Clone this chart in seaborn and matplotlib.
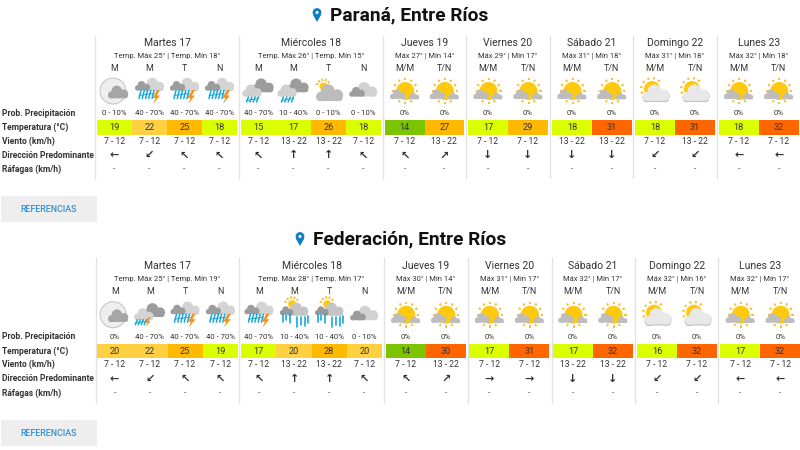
import numpy as np
import matplotlib
matplotlib.use("Agg")
import matplotlib.pyplot as plt
import seaborn as sns
from matplotlib.colors import ListedColormap, BoundaryNorm
from matplotlib.patches import Circle, Polygon, FancyBboxPatch

sns.set_theme(style="white")
plt.rcParams['font.family'] = ['Roboto', 'DejaVu Sans']

# ---- data ----
row_labels = ["Prob. Precipitación", "Temperatura (°C)", "Viento (km/h)", "Dirección Predominante", "Ráfagas (km/h)"]
days = ["Martes 17", "Miércoles 18", "Jueves 19", "Viernes 20", "Sábado 21", "Domingo 22", "Lunes 23"]
periods_four = ["M", "M", "T", "N"]
periods_two = ["M/M", "T/N"]

title_a = "Paraná, Entre Ríos"
max_a = [25, 26, 27, 29, 31, 31, 32]
min_a = [18, 15, 14, 17, 18, 18, 18]
prob_a = ["0 - 10%", "40 - 70%", "40 - 70%", "40 - 70%", "40 - 70%", "10 - 40%", "0 - 10%", "0 - 10%",
          "0%", "0%", "0%", "0%", "0%", "0%", "0%", "0%", "0%", "0%"]
temp_a = [19, 22, 25, 18, 15, 17, 26, 18, 14, 27, 17, 29, 18, 31, 18, 31, 18, 32]
wind_a = ["7 - 12", "7 - 12", "7 - 12", "7 - 12", "7 - 12", "13 - 22", "13 - 22", "7 - 12", "7 - 12", "13 - 22",
          "7 - 12", "7 - 12", "13 - 22", "13 - 22", "7 - 12", "13 - 22", "7 - 12", "7 - 12"]
dir_a = ["←", "↙", "↖", "↖", "↖", "↑", "↑", "↖", "↖", "↗", "↓", "↓", "↓", "↓", "↙", "↙", "←", "←"]
icon_a = ["moon", "storm", "storm", "storm", "rain", "rain", "suncloud", "clouds",
          "sunny", "sunny", "sunny", "sunny", "sunny", "sunny", "white", "white", "sunny", "sunny"]

title_b = "Federación, Entre Ríos"
max_b = [25, 28, 30, 31, 32, 32, 32]
min_b = [19, 17, 14, 17, 17, 16, 17]
prob_b = ["0%", "40 - 70%", "40 - 70%", "40 - 70%", "40 - 70%", "10 - 40%", "10 - 40%", "0 - 10%",
          "0%", "0%", "0%", "0%", "0%", "0%", "0%", "0%", "0%", "0%"]
temp_b = [20, 22, 25, 19, 17, 20, 28, 20, 14, 30, 17, 31, 17, 32, 16, 32, 17, 32]
wind_b = ["7 - 12", "7 - 12", "7 - 12", "7 - 12", "7 - 12", "13 - 22", "13 - 22", "7 - 12", "7 - 12", "13 - 22",
          "7 - 12", "7 - 12", "13 - 22", "13 - 22", "7 - 12", "7 - 12", "7 - 12", "7 - 12"]
dir_b = ["←", "↙", "↖", "↖", "↖", "↑", "↑", "↖", "↖", "↗", "→", "→", "↓", "↓", "↙", "↙", "←", "←"]
icon_b = ["moon", "storm2", "storm", "storm", "storm", "heavy", "heavy", "clouds",
          "sunny", "sunny", "sunny", "sunny", "sunny", "sunny", "white", "white", "sunny", "sunny"]

temp_bounds = [0, 15, 20, 25, 30, 50]
temp_colors = ["#7cc400", "#dcff00", "#ffd040", "#ffb900", "#ff6600"]

# ---- layout (pixels) ----
W, H = 800, 450
fig = plt.figure(figsize=(W / 100, H / 100), dpi=100, facecolor="white")
ax = fig.add_axes([0, 0, 1, 1])
ax.set_xlim(0, W)
ax.set_ylim(H, 0)
ax.axis("off")
TXT = "#333333"
cmap = ListedColormap(temp_colors)
norm = BoundaryNorm(temp_bounds, cmap.N)


def cloud(cx, cy, s, c, z=3):
    for dx, dy, r in [(-.62, .18, .34), (-.12, -.2, .5), (.55, .08, .42)]:
        ax.add_patch(Circle((cx + dx * s, cy + dy * s), r * s, fc=c, ec="none", zorder=z))
    ax.add_patch(FancyBboxPatch((cx - .92 * s, cy + .1 * s), 1.85 * s, .4 * s,
                                boxstyle=f"round,pad=0,rounding_size={.2 * s}", fc=c, ec="none", zorder=z))


def sun(cx, cy, r, z=2, arc=(180, 360)):
    for a in np.radians(np.arange(arc[0], arc[1] + 1, 30)):
        ax.plot([cx + np.cos(a) * (r + 1.6), cx + np.cos(a) * (r + 4)],
                [cy + np.sin(a) * (r + 1.6), cy + np.sin(a) * (r + 4)],
                color="#f7bf33", lw=1.4, solid_capstyle="butt", zorder=z)
    ax.add_patch(Circle((cx, cy), r, fc="#ffc90e", ec="none", zorder=z))


def bolt(cx, cy, s=1.0, z=6):
    pts = [(1, -7), (-3.5, 1), (-.5, 1), (-3, 7), (4, -1.5), (1, -1.5), (4, -7)]
    ax.add_patch(Polygon([(cx + x * s, cy + y * s) for x, y in pts], fc="#f4931e", ec="none", zorder=z))


def rain(cx, cy, w, h=6, n=5, z=5, lw=1.1):
    for x in np.linspace(cx - w / 2, cx + w / 2, n):
        ax.plot([x + 1, x - 1], [cy - h / 2, cy + h / 2], color="#19a8d8", lw=lw, zorder=z)
    ax.plot([cx - w / 2 - 1, cx + w / 2 + 1], [cy + 1, cy - 1], color="#19a8d8", lw=.7, zorder=z)


def icon(kind, cx, cy):
    if kind == "moon":
        ax.add_patch(Circle((cx - 1.5, cy - .5), 13, fc="#eeeeee", ec="#c8c8c8", lw=.8, zorder=2))
        cloud(cx + 3.5, cy + 1.5, 10.5, "#a6a6a6")
    elif kind == "storm":
        cloud(cx + 4, cy - 6, 11, "#d4d4d4", 3)
        cloud(cx - 7, cy - 5, 7.8, "#9c9c9c", 4)
        rain(cx - 3, cy + 3, 13, 8)
        bolt(cx + 6.5, cy + 5.5)
    elif kind == "storm2":
        cloud(cx + 4, cy - 4, 11.5, "#9c9c9c", 3)
        cloud(cx - 6, cy, 10, "#d4d4d4", 4)
        rain(cx - 9, cy + 7, 9, 5, 4)
        bolt(cx - 2, cy + 7, .7)
    elif kind == "rain":
        cloud(cx + 4, cy - 5, 11.5, "#9c9c9c", 3)
        cloud(cx - 6.5, cy, 10, "#d0d0d0", 4)
        rain(cx - 6, cy + 8, 10, 5, 4)
    elif kind == "suncloud":
        sun(cx - 5, cy - 5, 4, 2, arc=(200, 340))
        cloud(cx + 1, cy + 2.5, 14, "#bcbcbc", 3)
    elif kind == "clouds":
        cloud(cx + 2, cy - 1, 12, "#d2d2d2", 3)
        cloud(cx - 6.5, cy + 1, 8, "#9c9c9c", 4)
    elif kind == "sunny":
        sun(cx + .5, cy - .5, 9, 2, arc=(0, 360))
        cloud(cx - 7, cy + 3.5, 8, "#bdbdbd", 3)
        cloud(cx + 9, cy + 5, 5.6, "#bdbdbd", 3)
    elif kind == "white":
        sun(cx - 3, cy - 2.5, 8, 2, arc=(130, 330))
        cloud(cx + 1, cy + 3.3, 14, "#b8b8b8", 3)
        cloud(cx + 1, cy + 2.5, 13.7, "#e8e8e8", 4)
    elif kind == "heavy":
        sun(cx - 2, cy - 11, 4, 2, arc=(200, 340))
        cloud(cx + 3.5, cy - 5, 11, "#c4c4c4", 3)
        cloud(cx - 7.5, cy - 4, 7, "#999999", 4)
        for dx, y0, y1 in [(-11, -1, 7), (-8, 0, 5), (-4, -1, 8), (3, 2, 12), (7, 2, 10), (11, 2, 11), (14, 1, 8)]:
            ax.plot([cx + dx, cx + dx], [cy + y0, cy + y1], color="#19a8d8", lw=1.2, zorder=5)


def panel(title, title_y, pin_x, edges, seps, ysep, dy, maxs, mins, prob, temp, wind, direc, icons, btn_y):
    ax.text(pin_x + 13, title_y, title, fontsize=13.75, fontweight="bold", ha="left", va="center", color="#111111")
    # map pin
    ax.add_patch(Circle((pin_x, title_y - 2.5), 4.4, fc="#0f7fc4", ec="none", zorder=3))
    ax.add_patch(Polygon([(pin_x - 4, title_y), (pin_x + 4, title_y), (pin_x, title_y + 7)], fc="#0f7fc4", ec="none", zorder=3))
    ax.add_patch(Circle((pin_x, title_y - 2.5), 1.5, fc="white", ec="none", zorder=4))
    # row labels
    for lab, y in zip(row_labels, [113, 127.5, 141, 155.2, 169.3]):
        ax.text(2, y + dy, lab, fontsize=6.15, fontweight="bold", ha="left", va="center", color=TXT)
    for x in seps:
        ax.plot([x, x], [ysep[0], ysep[1]], color="#e2e2e2", lw=1.0, zorder=1)
    i = 0
    for d, (day, edge) in enumerate(zip(days, edges)):
        n = len(edge) - 1
        cm = (edge[0] + edge[-1]) / 2
        ax.text(cm, 42.7 + dy, day, fontsize=7.5, ha="center", va="center", color=TXT)
        sub = f"Temp. Máx {maxs[d]}° | Temp. Mín {mins[d]}°" if n == 4 else f"Máx {maxs[d]}° | Mín {mins[d]}°"
        ax.text(cm, 55.3 + dy, sub, fontsize=5.5, ha="center", va="center", color=TXT)
        # temperature cells of this day
        hax = fig.add_axes([edge[0] / W, 1 - (134.7 + dy) / H, (edge[-1] - edge[0]) / W, 14.4 / H])
        sns.heatmap(np.array([temp[i:i + n]]), ax=hax, cmap=cmap, norm=norm, cbar=False, annot=True, fmt="d",
                    xticklabels=False, yticklabels=False, annot_kws={"fontsize": 6.6, "color": TXT})
        pers = periods_four if n == 4 else periods_two
        for j in range(n):
            cx = (edge[j] + edge[j + 1]) / 2
            ax.text(cx, 68.3 + dy, pers[j], fontsize=6.4, ha="center", va="center", color=TXT)
            icon(icons[i + j], cx, 91.5 + dy)
            ax.text(cx, 113 + dy, prob[i + j], fontsize=5.6, ha="center", va="center", color=TXT)
            ax.text(cx, 141 + dy, wind[i + j], fontsize=6.2, ha="center", va="center", color=TXT)
            ax.text(cx, 155.2 + dy, direc[i + j], fontsize=8, fontweight="bold", family="DejaVu Sans",
                    ha="center", va="center", color=TXT)
            ax.text(cx, 169.3 + dy, "-", fontsize=6, ha="center", va="center", color=TXT)
        i += n
    # button
    ax.add_patch(FancyBboxPatch((1, btn_y), 96, 26, boxstyle="round,pad=0,rounding_size=1.5", fc="#eeeeee", ec="none"))
    ax.text(48.5, btn_y + 13, "REFERENCIAS", fontsize=6.4, fontweight="medium", ha="center", va="center", color="#2d8fd8")


edges_a = [[97, 132, 167, 202, 237], [241, 276, 311, 346, 381], [385, 424.5, 464.3], [468, 508, 548],
           [552, 592, 631.7], [635, 675, 715], [718.7, 758.7, 798.7]]
edges_b = [[97, 132.3, 167.3, 202.7, 238], [241.3, 276.5, 311.7, 346.8, 382], [385.7, 425.7, 465.7], [469.3, 509.5, 549.3],
           [553, 593, 633], [637, 677, 717], [720.3, 760.3, 800]]
seps_a = [95, 238.7, 382.7, 466.3, 549.7, 633.3, 716.7]
seps_b = [96, 239.3, 383.7, 467.7, 551.7, 635.3, 718.3]

panel(title_a, 15, 317, edges_a, seps_a, (36, 178), 0, max_a, min_a, prob_a, temp_a, wind_a, dir_a, icon_a, 196)
panel(title_b, 239, 300, edges_b, seps_b, (258, 402.7), 223.7, max_b, min_b, prob_b, temp_b, wind_b, dir_b, icon_b, 420)

fig.savefig("out.png", dpi=100)
